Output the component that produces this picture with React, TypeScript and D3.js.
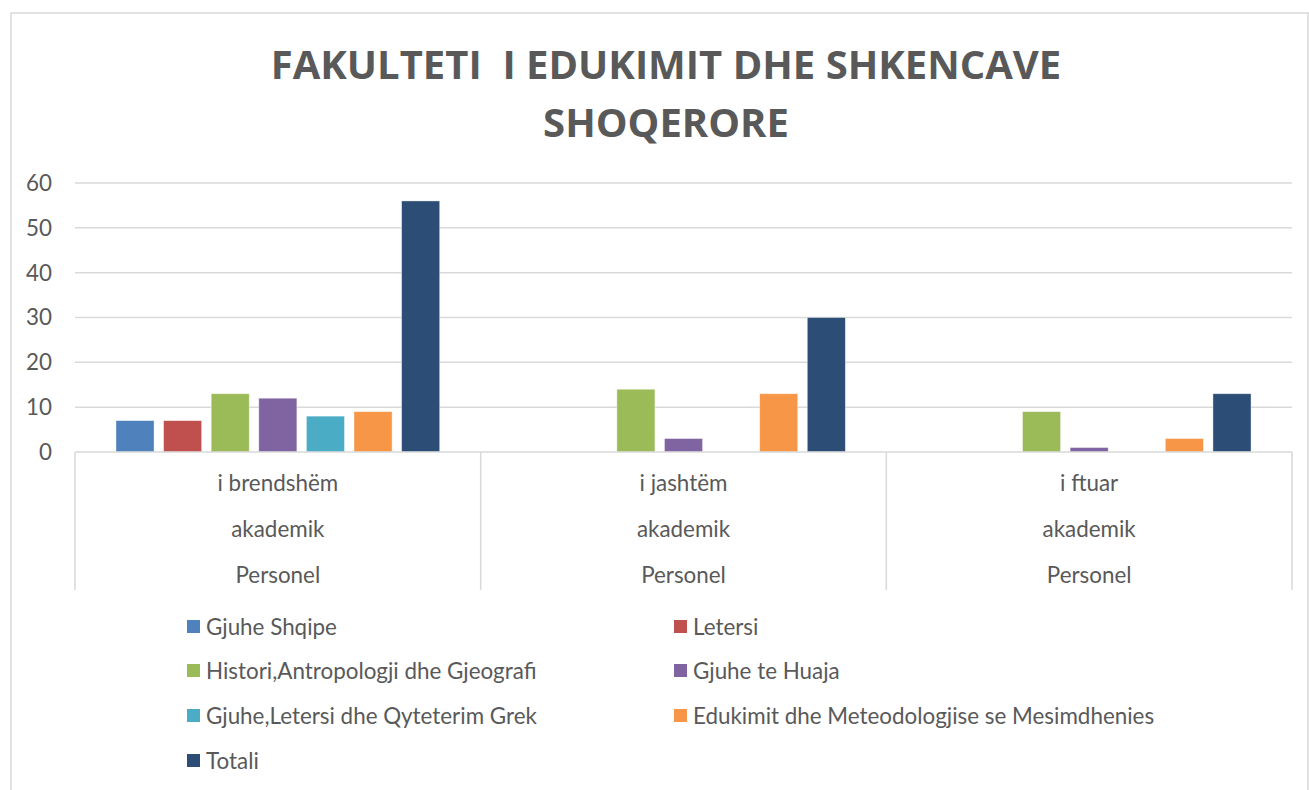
import React from "react";
import * as d3 from "d3";

const categories = ["i brendshëm", "i jashtëm", "i ftuar"];
const subLabels = ["akademik", "Personel"];
const seriesNames = [
  "Gjuhe Shqipe",
  "Letersi",
  "Histori,Antropologji dhe Gjeografi",
  "Gjuhe te Huaja",
  "Gjuhe,Letersi dhe Qyteterim Grek",
  "Edukimit dhe Meteodologjise se Mesimdhenies",
  "Totali",
];
const seriesColors = ["#4F81BD", "#C0504D", "#9BBB59", "#8064A2", "#4BACC6", "#F79646", "#2C4D75"];
// values per series, one per category (null = no bar)
const gjuheShqipe = [7, null, null];
const letersi = [7, null, null];
const histori = [13, 14, 9];
const gjuheHuaja = [12, 3, 1];
const grek = [8, null, null];
const edukimit = [9, 13, 3];
const totali = [56, 30, 13];
const seriesValues = [gjuheShqipe, letersi, histori, gjuheHuaja, grek, edukimit, totali];
const yTicks = [0, 10, 20, 30, 40, 50, 60];
const titleLines = ["FAKULTETI  I EDUKIMIT DHE SHKENCAVE", "SHOQERORE"];

const W = 1309;
const H = 790;
const plotLeft = 75;
const plotRight = 1292;
const plotTop = 183;
const plotBottom = 452;
const axisBottom = 590;
const textColor = "#595959";
const gridColor = "#D9D9D9";
const font = "Lato, 'Open Sans', sans-serif";
const fs = 22.4;

export default function App() {
  const x0 = d3.scaleBand<string>().domain(categories).range([plotLeft, plotRight]).padding(0);
  const bw = x0.bandwidth();
  const margin = bw * 0.101;
  const x1 = d3
    .scaleBand<string>()
    .domain(seriesNames)
    .range([margin, bw - margin])
    .paddingInner(0.2)
    .paddingOuter(0);
  const y = d3.scaleLinear().domain([0, 60]).range([plotBottom, plotTop]);

  const legendCols = [187, 674];
  const legendRowY = [627, 671, 716, 761];

  return (
    <div style={{ position: "absolute", left: 0, top: 0 }}>
      <svg width={W} height={H} style={{ display: "block", background: "#fff" }}>
        <rect x={11} y={13} width={W - 12} height={H + 20} fill="#fff" stroke={gridColor} strokeWidth={1.5} />
        {titleLines.map((t, i) => (
          <text
            key={t}
            x={666}
            y={79 + i * 58}
            textAnchor="middle"
            fontFamily="'Open Sans', sans-serif"
            fontWeight="bold"
            fontSize={40}
            fill={textColor}
            style={{ whiteSpace: "pre" }}
          >
            {t}
          </text>
        ))}
        {/* gridlines */}
        {yTicks.map((t) => (
          <g key={t}>
            {t > 0 && (
              <line x1={plotLeft} x2={plotRight} y1={y(t)} y2={y(t)} stroke={gridColor} strokeWidth={1.5} />
            )}
            <text
              x={52}
              y={y(t)}
              dy="0.35em"
              textAnchor="end"
              fontFamily={font}
              fontSize={fs}
              fill={textColor}
            >
              {t}
            </text>
          </g>
        ))}
        {/* bars */}
        {seriesNames.map((s, si) =>
          categories.map((c, ci) => {
            const v = seriesValues[si][ci];
            if (v == null) return null;
            const bx = (x0(c) as number) + (x1(s) as number);
            return (
              <rect
                key={s + c}
                x={bx}
                y={y(v)}
                width={x1.bandwidth()}
                height={y(0) - y(v)}
                fill={seriesColors[si]}
                stroke="#ffffff"
                strokeOpacity={0.5}
                strokeWidth={0.8}
              />
            );
          })
        )}
        {/* category axis */}
        <line x1={plotLeft} x2={plotRight} y1={plotBottom} y2={plotBottom} stroke={gridColor} strokeWidth={1.5} />
        {[...categories.map((c) => x0(c) as number), plotRight].map((xv, i) => (
          <line key={i} x1={xv} x2={xv} y1={plotBottom} y2={axisBottom} stroke={gridColor} strokeWidth={1.5} />
        ))}
        {categories.map((c) => {
          const cx = (x0(c) as number) + bw / 2;
          return (
            <g key={c} fontFamily={font} fontSize={fs} fill={textColor} textAnchor="middle">
              <text x={cx} y={483} dy="0.35em">
                {c}
              </text>
              <text x={cx} y={529} dy="0.35em">
                {subLabels[0]}
              </text>
              <text x={cx} y={575} dy="0.35em">
                {subLabels[1]}
              </text>
            </g>
          );
        })}
        {/* legend */}
        {seriesNames.map((s, i) => {
          const col = i % 2;
          const row = Math.floor(i / 2);
          const lx = legendCols[col];
          const ly = legendRowY[row];
          return (
            <g key={s}>
              <rect x={lx} y={ly - 7} width={13} height={13} fill={seriesColors[i]} />
              <text x={lx + 19} y={ly} dy="0.35em" fontFamily={font} fontSize={fs} fill={textColor}>
                {s}
              </text>
            </g>
          );
        })}
      </svg>
    </div>
  );
}
